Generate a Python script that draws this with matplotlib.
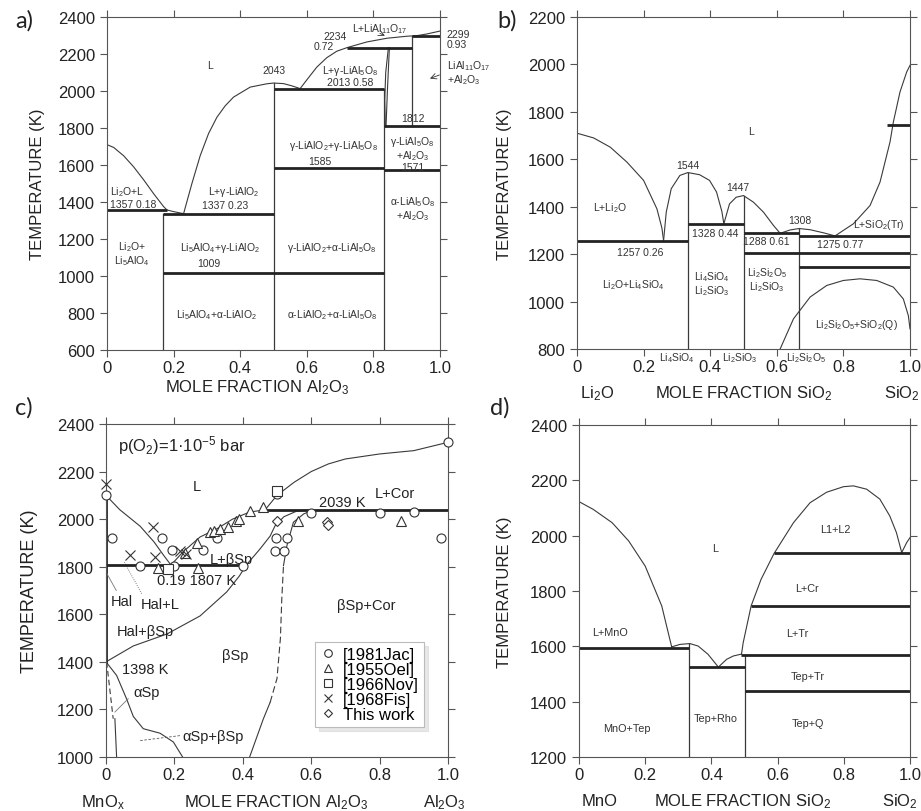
import matplotlib.pyplot as plt
from matplotlib.lines import Line2D

plt.rcParams['font.family'] = ['Liberation Sans', 'DejaVu Sans']
plt.rcParams['mathtext.fontset'] = 'custom'
plt.rcParams['mathtext.rm'] = 'Liberation Sans'
plt.rcParams['mathtext.it'] = 'Liberation Sans:italic'
plt.rcParams['mathtext.bf'] = 'Liberation Sans:bold'

# ---------------- a) Li2O - Al2O3 ----------------
a_liq1_x = [0, 0.02, 0.05, 0.08, 0.11, 0.14, 0.17, 0.18, 0.20, 0.23]
a_liq1_t = [1710, 1695, 1650, 1590, 1520, 1445, 1375, 1357, 1348, 1337]
a_liq2_x = [0.23, 0.255, 0.28, 0.305, 0.33, 0.355, 0.38, 0.43, 0.48, 0.50, 0.53, 0.555, 0.58]
a_liq2_t = [1337, 1500, 1651, 1770, 1858, 1920, 1967, 2021, 2039, 2043, 2040, 2028, 2013]
a_liq3_x = [0.58, 0.60, 0.63, 0.66, 0.69, 0.72, 0.78, 0.84, 0.90, 0.93, 0.96, 1.0]
a_liq3_t = [2013, 2060, 2129, 2180, 2215, 2234, 2265, 2285, 2296, 2299, 2308, 2324]
a_lens1_x = [0.836, 0.834, 0.837, 0.845]
a_lens1_t = [1812, 1950, 2100, 2234]
a_lens2_x = [0.838, 0.842, 0.848]
a_lens2_t = [1812, 2000, 2234]
a_iso_x0 = [0, 0.167, 0.167, 0.5, 0.5, 0.72, 0.917, 0.833, 0.833]
a_iso_x1 = [0.18, 0.5, 0.833, 0.833, 0.833, 0.917, 1.0, 1.0, 1.0]
a_iso_t = [1357, 1337, 1018, 1585, 2013, 2234, 2299, 1812, 1571]
a_comp_x = [0.167, 0.5, 0.833, 0.917]
a_comp_t0 = [600, 600, 600, 1812]
a_comp_t1 = [1337, 2043, 2013, 2299]

# ---------------- b) Li2O - SiO2 ----------------
b_liq1_x = [0, 0.05, 0.10, 0.15, 0.20, 0.24, 0.255, 0.26]
b_liq1_t = [1710, 1690, 1651, 1588, 1511, 1391, 1310, 1257]
b_liq2_x = [0.26, 0.268, 0.283, 0.309, 0.333, 0.368, 0.398, 0.419, 0.435, 0.441]
b_liq2_t = [1257, 1377, 1476, 1532, 1544, 1535, 1511, 1462, 1380, 1328]
b_liq3_x = [0.441, 0.458, 0.478, 0.5, 0.53, 0.56, 0.59, 0.61]
b_liq3_t = [1328, 1412, 1440, 1447, 1419, 1377, 1321, 1288]
b_liq4_x = [0.61, 0.64, 0.667, 0.70, 0.74, 0.775]
b_liq4_t = [1288, 1302, 1308, 1303, 1290, 1277]
b_liq5_x = [0.775, 0.83, 0.88, 0.91, 0.94, 0.95, 0.97, 0.99, 1.0]
b_liq5_t = [1277, 1328, 1405, 1504, 1673, 1757, 1884, 1968, 1996]
b_dome_x = [0.61, 0.65, 0.70, 0.75, 0.80, 0.85, 0.90, 0.95, 0.98, 0.995, 1.0]
b_dome_t = [800, 927, 1019, 1068, 1089, 1096, 1089, 1061, 1011, 941, 885]
b_iso_x0 = [0, 0.333, 0.5, 0.667, 0.5, 0.667, 0.93]
b_iso_x1 = [0.333, 0.5, 0.667, 1.0, 1.0, 1.0, 1.0]
b_iso_t = [1257, 1328, 1288, 1275, 1206, 1145, 1745]
b_comp_x = [0.333, 0.5, 0.667]
b_comp_t0 = [800, 800, 800]
b_comp_t1 = [1544, 1447, 1308]

# ---------------- c) MnOx - Al2O3 ----------------
c_liq1_x = [0, 0.04, 0.10, 0.14, 0.17, 0.19]
c_liq1_t = [2100, 2040, 1970, 1905, 1845, 1807]
c_liq2_x = [0.19, 0.225, 0.275, 0.325, 0.37, 0.42, 0.465, 0.50, 0.55, 0.60, 0.65, 0.70, 0.80, 0.90, 1.0]
c_liq2_t = [1807, 1862, 1925, 1960, 2000, 2030, 2039, 2100, 2155, 2200, 2232, 2253, 2274, 2288, 2323]
c_sol_x = [0, 0.08, 0.178, 0.275, 0.353, 0.39, 0.41, 0.45, 0.48, 0.494, 0.52, 0.558, 0.60]
c_sol_t = [1400, 1467, 1517, 1593, 1694, 1761, 1807, 1874, 1929, 1971, 2010, 2034, 2039]
c_bsp_lo_x = [0.42, 0.46, 0.48]
c_bsp_lo_t = [1000, 1160, 1230]
c_bsp_mid_x = [0.48, 0.50, 0.51, 0.514, 0.519]
c_bsp_mid_t = [1230, 1330, 1500, 1665, 1805]
c_bsp_hi_x = [0.519, 0.529, 0.548, 0.578, 0.60]
c_bsp_hi_t = [1805, 1889, 1987, 2022, 2035]
c_asp_x = [0, 0.031, 0.06, 0.08, 0.109, 0.158, 0.197, 0.224]
c_asp_t = [1400, 1343, 1245, 1170, 1119, 1100, 1063, 1000]
c_iso_x0 = [0, 0.465]
c_iso_x1 = [0.41, 1.0]
c_iso_t = [1807, 2039]

jac_x = [0, 0.017, 0.1, 0.163, 0.192, 0.199, 0.284, 0.324, 0.4, 0.496, 0.494, 0.53, 0.521, 0.499, 0.598, 0.8, 0.9, 0.98, 1.0]
jac_t = [2100, 1920, 1803, 1920, 1870, 1803, 1870, 1920, 1803, 1920, 1868, 1920, 1868, 2106, 2026, 2026, 2030, 1920, 2323]
oel_x = [0.153, 0.27, 0.265, 0.304, 0.316, 0.333, 0.357, 0.38, 0.39, 0.421, 0.459, 0.562, 0.862, 0.232]
oel_t = [1793, 1793, 1900, 1946, 1952, 1959, 1968, 1994, 2000, 2036, 2049, 1991, 1991, 1858]
nov_x = [0.18, 0.5]
nov_t = [1790, 2118]
fis_x = [0, 0.138, 0.07, 0.143, 0.216, 0.235]
fis_t = [2148, 1966, 1849, 1840, 1867, 1853]
tw_x = [0.5, 0.647, 0.65]
tw_t = [1994, 1987, 1977]
legend_labels = ['[1981Jac]', '[1955Oel]', '[1966Nov]', '[1968Fis]', 'This work']

# ---------------- d) MnO - SiO2 ----------------
d_liq1_x = [0, 0.043, 0.10, 0.15, 0.20, 0.25, 0.28]
d_liq1_t = [2123, 2095, 2047, 1981, 1890, 1746, 1598]
d_liq2_x = [0.28, 0.305, 0.335, 0.36, 0.39, 0.421]
d_liq2_t = [1598, 1607, 1610, 1601, 1571, 1525]
d_liq3_x = [0.421, 0.446, 0.466, 0.491]
d_liq3_t = [1525, 1553, 1565, 1572]
d_liq4_x = [0.491, 0.496, 0.52, 0.55, 0.589, 0.648, 0.698, 0.748, 0.799, 0.829, 0.869, 0.909, 0.939, 0.959, 0.975]
d_liq4_t = [1572, 1613, 1746, 1842, 1935, 2047, 2119, 2157, 2177, 2180, 2168, 2132, 2071, 2011, 1939]
d_liq5_x = [0.975, 0.99, 1.0]
d_liq5_t = [1939, 1975, 1993]
d_iso_x0 = [0, 0.333, 0.59, 0.52, 0.49, 0.5]
d_iso_x1 = [0.333, 0.5, 1.0, 1.0, 1.0, 1.0]
d_iso_t = [1595, 1525, 1937, 1744, 1570, 1438]
d_comp_x = [0.333, 0.5]
d_comp_t0 = [1200, 1200]
d_comp_t1 = [1610, 1570]

xticks = [0, 0.2, 0.4, 0.6, 0.8, 1.0]
xticklabels = ['0', '0.2', '0.4', '0.6', '0.8', '1.0']

LC = '#3a3a3a'
W, H = 921, 812
fig = plt.figure(figsize=(W / 100, H / 100), dpi=100)


def px_axes(l, t, r, b):
    return fig.add_axes([l / W, 1 - b / H, (r - l) / W, (b - t) / H])


def style(ax, ylim, yticks, ylab_x, ylab_size=12):
    ax.set_xlim(0, 1)
    ax.set_ylim(*ylim)
    ax.set_xticks(xticks)
    ax.set_xticklabels(xticklabels)
    ax.set_yticks(yticks)
    ax.tick_params(direction='out', length=5, width=0.8, colors='#555555',
                   labelcolor='#222222', top=True, right=True, labelsize=12)
    ax.tick_params(axis='x', pad=2)
    for s in ax.spines.values():
        s.set_color('#555555')
        s.set_linewidth(0.8)
    ax.set_ylabel('TEMPERATURE (K)', fontsize=ylab_size, color='#222222')
    ax.yaxis.set_label_coords(ylab_x, 0.5)


def curve(ax, x, t, **kw):
    opts = dict(color=LC, lw=0.8)
    opts.update(kw)
    ax.plot(x, t, **opts)


def isos(ax, x0, x1, t):
    for a, b, y in zip(x0, x1, t):
        ax.plot([a, b], [y, y], color='#222222', lw=2, solid_capstyle='butt')


def comps(ax, x, t0, t1):
    for xx, a, b in zip(x, t0, t1):
        ax.plot([xx, xx], [a, b], color=LC, lw=0.9)


def ftext(x, y, s, **kw):
    fig.text(x / W, 1 - y / H, s, ha='center', va='center', color='#222222', **kw)


# ---- panel a
ax = px_axes(107, 18, 440, 351)
style(ax, (600, 2400), range(600, 2401, 200), -0.186)
for x, t in [(a_liq1_x, a_liq1_t), (a_liq2_x, a_liq2_t), (a_liq3_x, a_liq3_t),
             (a_lens1_x, a_lens1_t), (a_lens2_x, a_lens2_t)]:
    curve(ax, x, t)
comps(ax, a_comp_x, a_comp_t0, a_comp_t1)
isos(ax, a_iso_x0, a_iso_x1, a_iso_t)
fa = dict(fontsize=7.5, ha='center', va='center', color='#333333',
          multialignment='center', linespacing=1.0)
ax.text(0.31, 2140, 'L', **fa)
ax.text(0.5, 2111, '2043', **fa)
ax.text(0.685, 2297, '2234', **fa)
ax.text(0.65, 2243, '0.72', **fa)
ax.text(0.82, 2342, r'L+LiAl$_{11}$O$_{17}$', **fa)
ax.annotate('', xy=(0.842, 2292), xytext=(0.812, 2318),
            arrowprops=dict(arrowstyle='->', color='#333333', lw=0.6))
ax.text(0.73, 2084, 'L+γ-LiAl$_5$O$_8$\n2013 0.58', **fa)
ax.text(0.92, 1855, '1812', **fa)
ax.text(0.917, 1664, 'γ-LiAl$_5$O$_8$\n+Al$_2$O$_3$\n1571', **fa)
ax.text(0.68, 1707, r'γ-LiAlO$_2$+γ-LiAl$_5$O$_8$', **fa)
ax.text(0.64, 1622, '1585', **fa)
ax.text(0.06, 1458, r'Li$_2$O+L', **fa)
ax.text(0.08, 1387, '1357 0.18', **fa)
ax.text(0.38, 1458, r'L+γ-LiAlO$_2$', **fa)
ax.text(0.355, 1382, '1337 0.23', **fa)
ax.text(0.075, 1123, 'Li$_2$O+\nLi$_5$AlO$_4$', **fa)
ax.text(0.34, 1157, r'Li$_5$AlO$_4$+γ-LiAlO$_2$', **fa)
ax.text(0.305, 1071, '1009', **fa)
ax.text(0.675, 1155, r'γ-LiAlO$_2$+α-LiAl$_5$O$_8$', **fa)
ax.text(0.917, 1366, 'α-LiAl$_5$O$_8$\n+Al$_2$O$_3$', **fa)
ax.text(0.33, 794, r'Li$_5$AlO$_4$+α-LiAlO$_2$', **fa)
ax.text(0.675, 794, r'α-LiAlO$_2$+α-LiAl$_5$O$_8$', **fa)
fr = dict(fa, ha='left', multialignment='left')
ax.text(1.02, 2281, '2299\n0.93', **fr)
ax.text(1.02, 2102, 'LiAl$_{11}$O$_{17}$\n+Al$_2$O$_3$', **fr)
ax.annotate('', xy=(0.962, 2062), xytext=(1.006, 2092),
            arrowprops=dict(arrowstyle='->', color='#333333', lw=0.6),
            annotation_clip=False)
ftext(257, 388, r'MOLE FRACTION Al$_2$O$_3$', fontsize=12)
ftext(24, 21, 'a)', fontsize=17, family='Lato')

# ---- panel b
ax = px_axes(577, 18, 910, 350)
style(ax, (800, 2200), range(800, 2201, 200), -0.195)
for x, t in [(b_liq1_x, b_liq1_t), (b_liq2_x, b_liq2_t), (b_liq3_x, b_liq3_t),
             (b_liq4_x, b_liq4_t), (b_liq5_x, b_liq5_t), (b_dome_x, b_dome_t)]:
    curve(ax, x, t)
comps(ax, b_comp_x, b_comp_t0, b_comp_t1)
isos(ax, b_iso_x0, b_iso_x1, b_iso_t)
ax.text(0.524, 1718, 'L', **fa)
ax.text(0.334, 1577, '1544', **fa)
ax.text(0.484, 1483, '1447', **fa)
ax.text(0.67, 1342, '1308', **fa)
ax.text(0.098, 1398, r'L+Li$_2$O', **fa)
ax.text(0.19, 1208, '1257 0.26', **fa)
ax.text(0.414, 1290, '1328 0.44', **fa)
ax.text(0.57, 1256, '1288 0.61', **fa)
ax.text(0.79, 1242, '1275 0.77', **fa)
ax.text(0.905, 1328, r'L+SiO$_2$(Tr)', **fa)
ax.text(0.168, 1075, r'Li$_2$O+Li$_4$SiO$_4$', **fa)
ax.text(0.404, 1078, 'Li$_4$SiO$_4$\nLi$_2$SiO$_3$', **fa)
ax.text(0.57, 1096, 'Li$_2$Si$_2$O$_5$\nLi$_2$SiO$_3$', **fa)
ax.text(0.84, 906, r'Li$_2$Si$_2$O$_5$+SiO$_2$(Q)', **fa)
ax.text(0.30, 766, r'Li$_4$SiO$_4$', **fa)
ax.text(0.49, 766, r'Li$_2$SiO$_3$', **fa)
ax.text(0.688, 766, r'Li$_2$Si$_2$O$_5$', **fa)
ftext(597, 394, r'Li$_2$O', fontsize=12)
ftext(744, 394, r'MOLE FRACTION SiO$_2$', fontsize=12)
ftext(902, 394, r'SiO$_2$', fontsize=12)
ftext(507, 21, 'b)', fontsize=17, family='Lato')

# ---- panel c
ax = px_axes(106, 425, 448, 758)
style(ax, (1000, 2400), range(1000, 2401, 200), -0.20, ylab_size=13)
curve(ax, c_liq1_x, c_liq1_t)
curve(ax, c_liq2_x, c_liq2_t)
curve(ax, c_sol_x, c_sol_t)
curve(ax, c_bsp_lo_x, c_bsp_lo_t)
curve(ax, c_bsp_mid_x, c_bsp_mid_t, ls=(0, (6, 3)))
curve(ax, c_bsp_hi_x, c_bsp_hi_t)
curve(ax, c_asp_x, c_asp_t)
ax.plot([0.001, 0.001], [1400, 2100], color='#222222', lw=2)
curve(ax, [0.003, 0.03], [1770, 1700], lw=0.6, color='#777777')
curve(ax, [0.053, 0.105], [1820, 1685], lw=0.6, ls=':', color='#555555')
curve(ax, [0.002, 0.021], [1399, 1161], ls=(0, (5, 3)))
curve(ax, [0.026, 0.031], [1161, 1000])
curve(ax, [0.026, 0.065], [1189, 1245], lw=0.6, color='#777777')
curve(ax, [0.1, 0.217], [1069, 1090], lw=0.6, ls=(0, (3, 2)), color='#555555')
isos(ax, c_iso_x0, c_iso_x1, c_iso_t)
mk = dict(ls='none', mfc='white', mec='#333333', mew=0.8, ms=6.5, zorder=5)
ax.plot(jac_x, jac_t, marker='o', clip_on=False, **mk)
ax.plot(oel_x, oel_t, marker='^', **mk)
ax.plot(nov_x, nov_t, marker='s', **mk)
ax.plot(fis_x, fis_t, marker='x', clip_on=False, ls='none', color='#333333', mew=0.8, ms=7, zorder=5)
ax.plot(tw_x, tw_t, marker='D', **dict(mk, ms=5.5))
fc = dict(fontsize=10.5, ha='center', va='center', color='#222222')
ax.text(0.035, 2315, r'p(O$_2$)=1·10$^{-5}$ bar', fontsize=12, ha='left', va='center', color='#222222')
ax.text(0.265, 2138, 'L', **fc)
ax.text(0.692, 2071, '2039 K', **fc)
ax.text(0.845, 2110, 'L+Cor', **fc)
ax.text(0.367, 1833, 'L+βSp', **fc)
ax.text(0.265, 1745, '0.19 1807 K', **fc)
ax.text(0.046, 1657, 'Hal', **fc)
ax.text(0.158, 1643, 'Hal+L', **fc)
ax.text(0.114, 1531, 'Hal+βSp', **fc)
ax.text(0.377, 1430, 'βSp', **fc)
ax.text(0.762, 1639, 'βSp+Cor', **fc)
ax.text(0.114, 1370, '1398 K', **fc)
ax.text(0.119, 1273, 'αSp', **fc)
ax.text(0.314, 1090, 'αSp+βSp', **fc)
lk = dict(ls='none', mfc='white', mec='#333333', mew=0.8, ms=5.5)
handles = [Line2D([], [], marker='o', **lk),
           Line2D([], [], marker='^', **lk),
           Line2D([], [], marker='s', **lk),
           Line2D([], [], marker='x', ls='none', color='#333333', mew=0.8, ms=6),
           Line2D([], [], marker='D', **dict(lk, ms=4.5))]
leg = ax.legend(handles, legend_labels,
                loc='upper left', bbox_to_anchor=(0.611, 0.345), fontsize=12,
                labelspacing=0.0, handlelength=1.0, handletextpad=0.4,
                borderpad=0.3, borderaxespad=0, fancybox=False,
                shadow={'color': '0.82', 'ox': 3, 'oy': -3})
leg.get_frame().set_edgecolor('#bbbbbb')
leg.get_frame().set_linewidth(0.8)
ftext(103, 803, r'MnO$_\mathregular{x}$', fontsize=12)
ftext(276, 803, r'MOLE FRACTION Al$_2$O$_3$', fontsize=12)
ftext(444, 803, r'Al$_2$O$_3$', fontsize=12)
ftext(24, 408, 'c)', fontsize=17, family='Lato')

# ---- panel d
ax = px_axes(579, 426, 910, 758)
style(ax, (1200, 2400), range(1200, 2401, 200), -0.202)
for x, t in [(d_liq1_x, d_liq1_t), (d_liq2_x, d_liq2_t), (d_liq3_x, d_liq3_t),
             (d_liq4_x, d_liq4_t), (d_liq5_x, d_liq5_t)]:
    curve(ax, x, t)
comps(ax, d_comp_x, d_comp_t0, d_comp_t1)
isos(ax, d_iso_x0, d_iso_x1, d_iso_t)
fd = dict(fontsize=7.8, ha='center', va='center', color='#333333')
ax.text(0.411, 1957, 'L', **fd)
ax.text(0.773, 2025, 'L1+L2', **fd)
ax.text(0.688, 1812, 'L+Cr', **fd)
ax.text(0.66, 1647, 'L+Tr', **fd)
ax.text(0.69, 1493, 'Tep+Tr', **fd)
ax.text(0.69, 1322, 'Tep+Q', **fd)
ax.text(0.413, 1342, 'Tep+Rho', **fd)
ax.text(0.146, 1306, 'MnO+Tep', **fd)
ax.text(0.094, 1653, 'L+MnO', **fd)
ftext(600, 802, 'MnO', fontsize=12)
ftext(743, 802, r'MOLE FRACTION SiO$_2$', fontsize=12)
ftext(900, 802, r'SiO$_2$', fontsize=12)
ftext(500, 408, 'd)', fontsize=17, family='Lato')

fig.savefig('out.png', dpi=100)
